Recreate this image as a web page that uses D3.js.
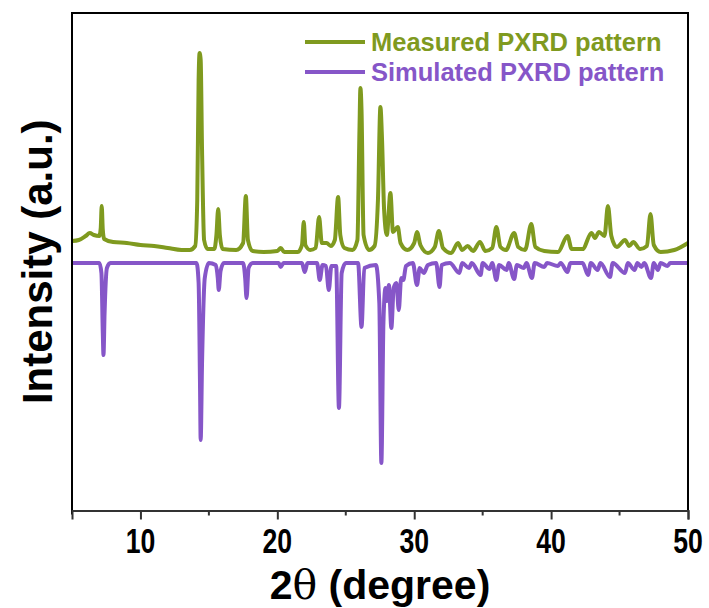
<!DOCTYPE html>
<html lang="en">
<head>
<meta charset="UTF-8">
<title>PXRD pattern</title>
<script src="https://d3js.org/d3.v7.min.js"></script>
<style>
  body { margin: 0; background: #fff; }
  text { font-family: "Liberation Sans", Arial, sans-serif; font-weight: bold; }
</style>
</head>
<body>
<div id="chart"></div>
<script>
// 2theta (degree), intensity (a.u.)
const measured = [
  [5.0, 271], [5.5, 272], [6.0, 276], [6.3, 279], [6.6, 277], [7.0, 276], [7.1, 284], [7.17, 306],
  [7.25, 282], [7.35, 273], [8.0, 270], [9.0, 269], [10.0, 267], [11.0, 266], [12.0, 264],
  [13.0, 262], [13.6, 262], [14.0, 266], [14.15, 312], [14.25, 432], [14.32, 459], [14.4, 452],
  [14.5, 362], [14.65, 272], [14.9, 263], [15.4, 263], [15.55, 277], [15.68, 303], [15.8, 277],
  [16.0, 263], [17.0, 262], [17.5, 269], [17.7, 316], [17.85, 272], [18.2, 261], [19.0, 260],
  [20.0, 261], [20.25, 264], [20.5, 260], [21.5, 260], [21.8, 267], [21.93, 290], [22.05, 267],
  [22.4, 262], [22.8, 264], [23.05, 295], [23.25, 269], [23.6, 269], [23.9, 266], [24.2, 272],
  [24.44, 315], [24.6, 277], [24.9, 264], [25.5, 262], [25.85, 272], [26.0, 382], [26.07, 424],
  [26.15, 402], [26.3, 277], [26.7, 262], [27.1, 266], [27.35, 312], [27.53, 405], [27.65, 372],
  [27.8, 302], [28.0, 277], [28.26, 319], [28.45, 280], [28.8, 285], [29.0, 269], [29.5, 262],
  [30.0, 269], [30.2, 280], [30.45, 267], [31.0, 259], [31.5, 265], [31.8, 281], [32.1, 264],
  [32.7, 259], [33.2, 269], [33.5, 262], [33.9, 266], [34.3, 261], [34.8, 270], [35.2, 261],
  [35.7, 264], [36.0, 285], [36.3, 265], [36.7, 262], [37.3, 279], [37.6, 265], [38.1, 262],
  [38.55, 288], [38.85, 265], [39.5, 261], [40.5, 260], [41.2, 276], [41.5, 263], [42.3, 263],
  [42.95, 279], [43.2, 274], [43.5, 280], [43.9, 276], [44.15, 306], [44.4, 276], [44.8, 265],
  [45.4, 272], [45.7, 266], [46.0, 270], [46.5, 263], [47.0, 266], [47.26, 298], [47.5, 267],
  [48.0, 260], [49.0, 262], [50.0, 269]
];

// simulated pattern: 2theta, relative intensity (drawn downward below the measured one)
const simulated = [
  [5.0, 0], [7.0, 0], [7.15, 10], [7.25, 70], [7.3, 92], [7.38, 50], [7.55, 5], [7.8, 0],
  [14.1, 0], [14.25, 20], [14.35, 120], [14.4, 177], [14.5, 100], [14.7, 15], [15.0, 0],
  [15.5, 2], [15.65, 15], [15.72, 27], [15.85, 8], [16.1, 0], [17.5, 0], [17.65, 15],
  [17.75, 35], [17.9, 5], [18.2, 0], [20.1, 0], [20.25, 4], [20.45, 0], [21.8, 0], [22.0, 9],
  [22.2, 0], [22.9, 0], [23.1, 17], [23.3, 2], [23.55, 3], [23.76, 27], [23.95, 3], [24.3, 3],
  [24.5, 145], [24.7, 10], [25.0, 0], [25.9, 0], [26.15, 64], [26.35, 5], [27.2, 2], [27.45, 40],
  [27.6, 200], [27.75, 60], [27.9, 25], [28.0, 38], [28.15, 22], [28.33, 65], [28.5, 25],
  [28.7, 20], [28.87, 47], [29.05, 15], [29.2, 17], [29.4, 3], [29.9, 0], [30.2, 22], [30.4, 5],
  [30.7, 10], [31.0, 2], [31.6, 0], [31.85, 24], [32.0, 2], [32.6, 0], [33.3, 10], [33.5, 0],
  [34.0, 5], [34.2, 0], [34.85, 12], [35.0, 0], [35.5, 6], [35.7, 0], [36.0, 17], [36.2, 2],
  [36.75, 7], [36.9, 0], [37.3, 16], [37.5, 2], [38.0, 5], [38.2, 0], [38.6, 15], [38.8, 0],
  [39.5, 4], [39.7, 0], [40.5, 3], [40.7, 0], [41.2, 9], [41.4, 0], [42.3, 0], [42.7, 12],
  [42.9, 0], [43.4, 7], [43.6, 0], [44.3, 14], [44.5, 0], [45.4, 10], [45.6, 0], [46.1, 7],
  [46.3, 0], [46.6, 4], [46.8, 0], [47.3, 15], [47.5, 0], [47.8, 7], [48.0, 0], [48.5, 3],
  [48.7, 0], [50.0, 0]
];
const simOffset = 249;

const xTicks = [10, 20, 30, 40, 50];
const xMinorTicks = [15, 25, 35, 45];
const seriesNames = ["Measured PXRD pattern", "Simulated PXRD pattern"];
const colors = ["#7f9a1f", "#8656c8"];

const width = 709, height = 608;
const margin = { top: 13, right: 21, bottom: 97, left: 72 };

const svg = d3.select('#chart').append('svg')
  .attr('width', width)
  .attr('height', height);

const x = d3.scaleLinear().domain([5, 50]).range([margin.left, width - margin.right]);
const y = d3.scaleLinear().domain([0, 500]).range([height - margin.bottom + 1, margin.top - 1]);

const line = d3.line().x(d => x(d[0])).y(d => y(d[1])).curve(d3.curveMonotoneX);

svg.append('path')
  .datum(simulated.map(d => [d[0], simOffset - d[1]]))
  .attr('fill', 'none')
  .attr('stroke', colors[1])
  .attr('stroke-width', 4)
  .attr('stroke-linejoin', 'round')
  .attr('d', line);

svg.append('path')
  .datum(measured)
  .attr('fill', 'none')
  .attr('stroke', colors[0])
  .attr('stroke-width', 4)
  .attr('stroke-linejoin', 'round')
  .attr('d', line);

// frame
const x0 = x(5), x1 = x(50), yTop = margin.top, yBot = height - margin.bottom - 0.5;
svg.append('path')
  .attr('d', `M${x0},${yBot + 4}V${yTop}H${x1}V${yBot}`)
  .attr('fill', 'none')
  .attr('stroke', '#000')
  .attr('stroke-width', 2);

// x axis
const xAxis = svg.append('g')
  .attr('transform', `translate(0,${yBot})`)
  .call(d3.axisBottom(x).tickValues(xTicks).tickSize(9).tickFormat(''));
xAxis.select('.domain').attr('stroke', '#333').attr('stroke-width', 2);
xAxis.selectAll('.tick line').attr('stroke', '#333').attr('stroke-width', 2);

// condensed tick labels
svg.append('g')
  .selectAll('text')
  .data(xTicks)
  .join('text')
  .attr('transform', d => `translate(${x(d)},553) scale(0.74,1)`)
  .attr('text-anchor', 'middle')
  .style('font-size', '36px')
  .text(d => d);

svg.append('g')
  .selectAll('line')
  .data(xMinorTicks)
  .join('line')
  .attr('x1', d => x(d)).attr('x2', d => x(d))
  .attr('y1', yBot).attr('y2', yBot + 5)
  .attr('stroke', '#333').attr('stroke-width', 2);

// axis titles
const xTitle = svg.append('text')
  .attr('x', (x0 + x1) / 2)
  .attr('y', 599)
  .attr('text-anchor', 'middle')
  .style('font-size', '41px');
xTitle.append('tspan').text('2');
xTitle.append('tspan')
  .style('font-family', '"DejaVu Serif", serif')
  .style('font-weight', 'normal')
  .text('θ');
xTitle.append('tspan').text(' (degree)');

svg.append('text')
  .attr('transform', `translate(52,${(yTop + yBot) / 2}) rotate(-90)`)
  .attr('text-anchor', 'middle')
  .style('font-size', '42px')
  .text('Intensity (a.u.)');

// legend
const legend = svg.append('g');
seriesNames.forEach((name, i) => {
  const ly = 42 + i * 30;
  legend.append('line')
    .attr('x1', 305).attr('x2', 365)
    .attr('y1', ly).attr('y2', ly)
    .attr('stroke', colors[i]).attr('stroke-width', 4);
  legend.append('text')
    .attr('x', 371).attr('y', ly + 9)
    .attr('fill', colors[i])
    .style('font-size', '25.5px')
    .text(name);
});
</script>
</body>
</html>
